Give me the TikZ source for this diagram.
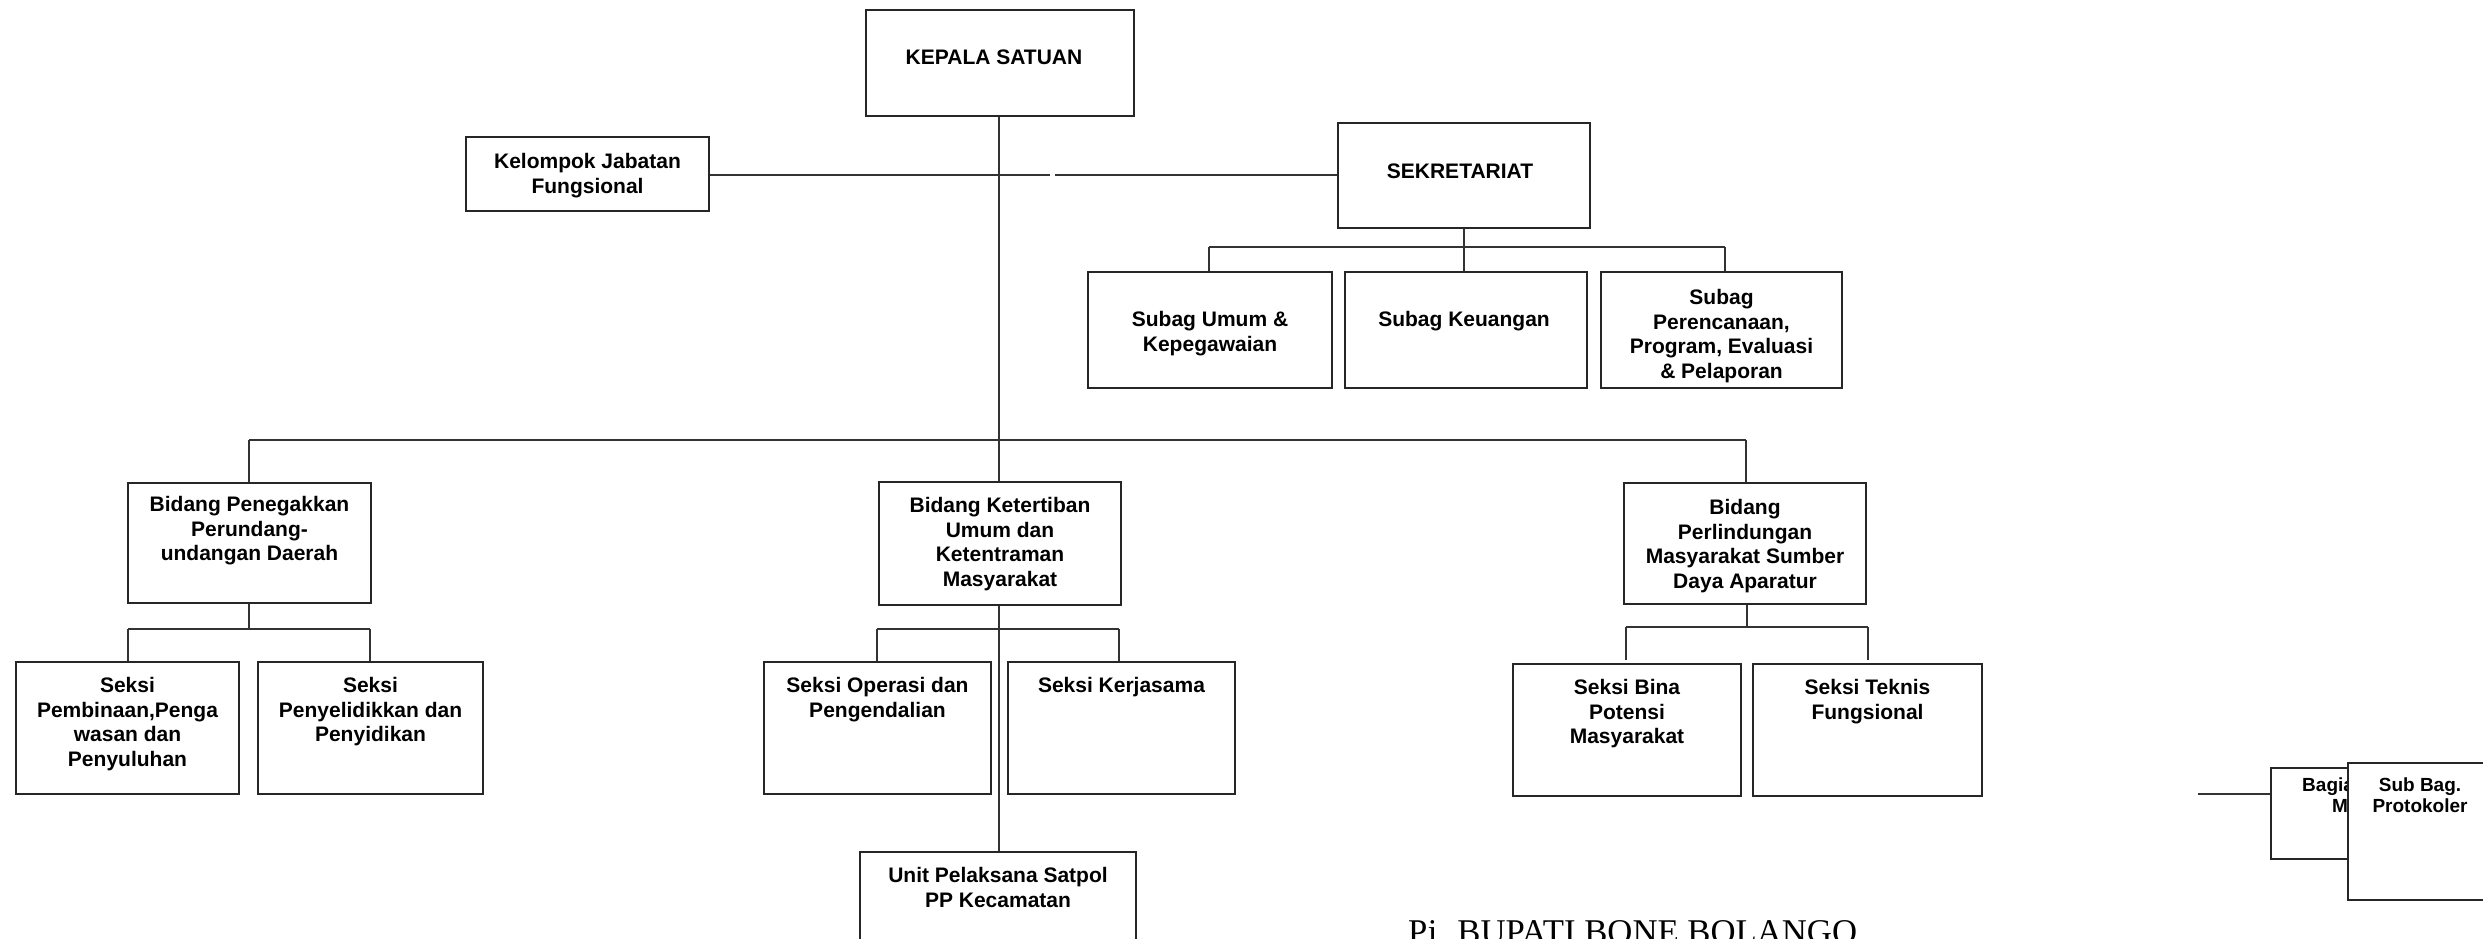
\documentclass[tikz,border=0pt]{standalone}
\usepackage{fontspec}
\setmainfont{Liberation Sans}
\newfontfamily\serifx{Liberation Serif}
\begin{document}
\begin{tikzpicture}[x=1pt,y=-1pt,
  box/.style={draw=black!85, line width=1.6pt, fill=white, inner sep=0pt, outer sep=0pt, anchor=north west},
  lbl/.style={font=\fontsize{21}{24.5}\selectfont\bfseries, align=center, anchor=north, inner sep=0pt, text=black},
  lbls/.style={font=\fontsize{19}{21.5}\selectfont\bfseries, align=center, anchor=north, inner sep=0pt, text=black},
  conn/.style={draw=black!80, line width=1.4pt}]
\useasboundingbox (0,0) rectangle (2483,939);
% coordinates for connectors
\coordinate (gapL) at (1050,175);
\coordinate (gapR) at (1055,175);
\coordinate (sbL) at (1209,247);
\coordinate (sbM) at (1464,247);
\coordinate (sbR) at (1725,247);
\coordinate (mbL) at (249,440);
\coordinate (mbR) at (1746,440);
\coordinate (lbL) at (128,629);
\coordinate (lbR) at (370,629);
\coordinate (lbM) at (249,629);
\coordinate (cbL) at (877,629);
\coordinate (cbR) at (1119,629);
\coordinate (rbL) at (1626,627);
\coordinate (rbR) at (1868,627);
\coordinate (rbM) at (1747,627);
\coordinate (bagin) at (2198,794);

% boxes (positions)
\path (866,10) coordinate (p-kepala);
% connectors first
\draw[conn] (999,116) -- (999,852);
\draw[conn] (709,175) -- (gapL);
\draw[conn] (gapR) -- (1338,175);
\draw[conn] (1464,228) -- (sbM);
\draw[conn] (sbL) -- (sbR);
\draw[conn] (sbL) -- (1209,272);
\draw[conn] (sbM) -- (1464,272);
\draw[conn] (sbR) -- (1725,272);
\draw[conn] (mbL) -- (mbR);
\draw[conn] (mbL) -- (249,483);
\draw[conn] (mbR) -- (1746,483);
\draw[conn] (249,603) -- (lbM);
\draw[conn] (lbL) -- (lbR);
\draw[conn] (lbL) -- (128,662);
\draw[conn] (lbR) -- (370,662);
\draw[conn] (cbL) -- (cbR);
\draw[conn] (cbL) -- (877,662);
\draw[conn] (cbR) -- (1119,662);
\draw[conn] (1747,604) -- (rbM);
\draw[conn] (rbL) -- (rbR);
\draw[conn] (rbL) -- (1626,660);
\draw[conn] (rbR) -- (1868,660);
\draw[conn] (bagin) -- (2271,794);

% boxes
\node[box, minimum width=268, minimum height=106] (kepala) at (866,10) {};
\node[box, minimum width=243, minimum height=74] (kelompok) at (466,137) {};
\node[box, minimum width=252, minimum height=105] (sekr) at (1338,123) {};
\node[box, minimum width=244, minimum height=116] (umum) at (1088,272) {};
\node[box, minimum width=242, minimum height=116] (keu) at (1345,272) {};
\node[box, minimum width=241, minimum height=116] (renc) at (1601,272) {};
\node[box, minimum width=243, minimum height=120] (bpen) at (128,483) {};
\node[box, minimum width=242, minimum height=123] (bket) at (879,482) {};
\node[box, minimum width=242, minimum height=121] (bper) at (1624,483) {};
\node[box, minimum width=223, minimum height=132] (s1) at (16,662) {};
\node[box, minimum width=225, minimum height=132] (s2) at (258,662) {};
\node[box, minimum width=227, minimum height=132] (s3) at (764,662) {};
\node[box, minimum width=227, minimum height=132] (s4) at (1008,662) {};
\node[box, minimum width=276, minimum height=110] (unit) at (860,852) {};
\node[box, minimum width=228, minimum height=132] (s5) at (1513,664) {};
\node[box, minimum width=229, minimum height=132] (s6) at (1753,664) {};

% texts
\node[lbl] (t-kepala) at (994,47.4) {\strut KEPALA SATUAN};
\node[lbl] (t-kelompok) at (587.5,151.4) {\strut Kelompok Jabatan\\Fungsional};
\node[lbl] (t-sekr) at (1460,160.9) {\strut SEKRETARIAT};
\node[lbl] (t-umum) at (1210,309.4) {\strut Subag Umum \&\\Kepegawaian};
\node[lbl] (t-keu) at (1464,309.4) {\strut Subag Keuangan};
\node[lbl] (t-renc) at (1721.5,287.4) {\strut Subag\\Perencanaan,\\Program, Evaluasi\\\& Pelaporan};
\node[lbl] (t-bpen) at (249.5,494.4) {\strut Bidang Penegakkan\\Perundang-\\undangan Daerah};
\node[lbl] (t-bket) at (1000,495.4) {\strut Bidang Ketertiban\\Umum dan\\Ketentraman\\Masyarakat};
\node[lbl] (t-bper) at (1745,497.4) {\strut Bidang\\Perlindungan\\Masyarakat Sumber\\Daya Aparatur};
\node[lbl] (t-s1) at (127.5,675.4) {\strut Seksi\\Pembinaan,Penga\\wasan dan\\Penyuluhan};
\node[lbl] (t-s2) at (370.5,675.4) {\strut Seksi\\Penyelidikkan dan\\Penyidikan};
\node[lbl] (t-s3) at (877.5,675.4) {\strut Seksi Operasi dan\\Pengendalian};
\node[lbl] (t-s4) at (1121.5,675.4) {\strut Seksi Kerjasama};
\node[lbl] (t-unit) at (998,865.4) {\strut Unit Pelaksana Satpol\\PP Kecamatan};
\node[lbl] (t-s5) at (1627,677.4) {\strut Seksi Bina\\Potensi\\Masyarakat};
\node[lbl] (t-s6) at (1867.5,677.4) {\strut Seksi Teknis\\Fungsional};

% bottom right partly hidden boxes
\node[box, minimum width=150, minimum height=91] (bag) at (2271,768) {};
\node[lbls, anchor=north west, align=left] (t-bag) at (2302,776) {\strut Bagian\\\hspace*{30pt}Ma};
\node[box, minimum width=150, minimum height=137] (subbag) at (2348,763) {};
\node[lbls] (t-subbag) at (2420,776) {\strut Sub Bag.\\Protokoler};

% signature
\node[anchor=base west, inner sep=0pt, font=\serifx\fontsize{34.7}{40}\selectfont] (sign) at (1408,943) {Pj. BUPATI BONE BOLANGO};
\end{tikzpicture}
\end{document}
